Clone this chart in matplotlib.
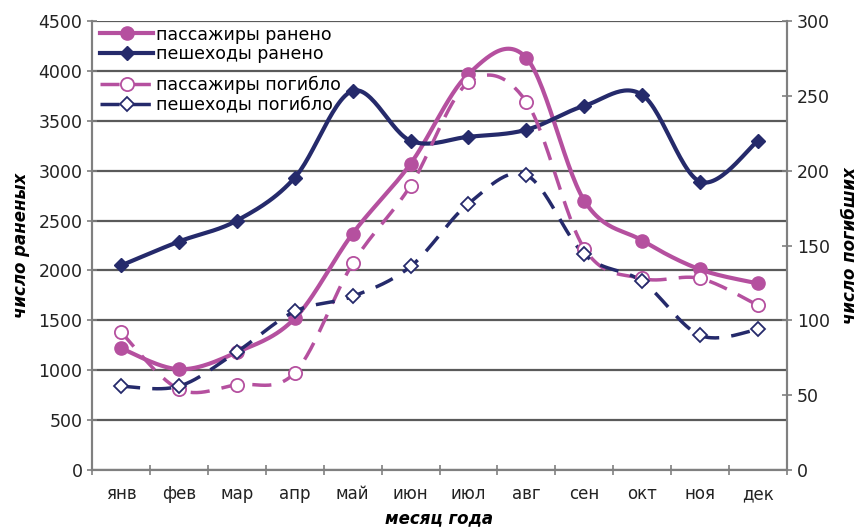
import numpy as np
import matplotlib
matplotlib.use("Agg")
import matplotlib.pyplot as plt

plt.rcParams['font.family'] = ['DejaVu Sans']

months = ['янв', 'фев', 'мар', 'апр', 'май', 'июн', 'июл', 'авг', 'сен', 'окт', 'ноя', 'дек']

# injured (left axis)
pass_injured = [1220, 1010, 1180, 1520, 2370, 3070, 3970, 4130, 2700, 2300, 2010, 1870]
ped_injured = [2050, 2290, 2500, 2930, 3800, 3300, 3340, 3410, 3650, 3760, 2890, 3300]
# killed (right axis)
pass_killed = [92, 54, 57, 65, 138, 190, 259, 246, 148, 128, 128, 110]
ped_killed = [56, 56, 79, 106, 116, 136, 178, 197, 144, 126, 90, 94]

MAGENTA = '#B5509F'
NAVY = '#252A6B'
GRID = '#5A5A5A'
SPINE = '#808080'
DASH = (5.5, 3.5)


def smooth(x, y, n=30):
    """Catmull-Rom style smoothing, same as spreadsheet 'smoothed line'."""
    x = np.asarray(x, float)
    y = np.asarray(y, float)
    px = np.concatenate([[x[0]], x, [x[-1]]])
    py = np.concatenate([[y[0]], y, [y[-1]]])
    xs, ys = [], []
    t = np.linspace(0, 1, n)
    for i in range(1, len(px) - 2):
        p0 = np.array([px[i], py[i]])
        p3 = np.array([px[i + 1], py[i + 1]])
        c1 = p0 + (p3 - np.array([px[i - 1], py[i - 1]])) / 6
        c2 = p3 - (np.array([px[i + 2], py[i + 2]]) - p0) / 6
        b = ((1 - t) ** 3)[:, None] * p0 + (3 * (1 - t) ** 2 * t)[:, None] * c1 \
            + (3 * (1 - t) * t ** 2)[:, None] * c2 + (t ** 3)[:, None] * p3
        xs.append(b[:, 0])
        ys.append(b[:, 1])
    return np.concatenate(xs), np.concatenate(ys)


x = np.arange(len(months))

fig = plt.figure(figsize=(8.61, 5.32), dpi=100)
ax = fig.add_axes([0.107, 0.1165, 0.807, 0.844])
ax2 = ax.twinx()

# left axis: injured
sx, sy = smooth(x, pass_injured)
ax.plot(sx, sy, color=MAGENTA, lw=3, solid_capstyle='round', zorder=3)
ax.plot(x, pass_injured, 'o', color=MAGENTA, ms=9.5, zorder=4)
sx, sy = smooth(x, ped_injured)
ax.plot(sx, sy, color=NAVY, lw=3, solid_capstyle='round', zorder=3)
ax.plot(x, ped_injured, 'D', color=NAVY, ms=7, zorder=4)

# right axis: killed
sx, sy = smooth(x, pass_killed)
ax2.plot(sx, sy, color=MAGENTA, lw=2.5, dashes=DASH, zorder=3)
ax2.plot(x, pass_killed, 'o', mfc='white', mec=MAGENTA, mew=1.3, ms=9.5, zorder=4)
sx, sy = smooth(x, ped_killed)
ax2.plot(sx, sy, color=NAVY, lw=2.5, dashes=DASH, zorder=3)
ax2.plot(x, ped_killed, 'D', mfc='white', mec=NAVY, mew=1.3, ms=7, zorder=4)

ax.set_xlim(-0.5, 11.5)
ax.set_ylim(0, 4500)
ax2.set_ylim(0, 300)
ax.set_yticks(np.arange(0, 4501, 500))
ax2.set_yticks(np.arange(0, 301, 50))
ax.set_xticks(x)
ax.set_xticklabels(months)
ax.set_xticks(np.arange(-0.5, 12, 1), minor=True)
ax.tick_params(axis='x', which='major', length=0, pad=11, labelsize=12, colors='#222222')
ax.tick_params(axis='x', which='minor', length=7, direction='inout', color=SPINE, width=1.2)
ax.tick_params(axis='y', length=7, direction='inout', color=SPINE, width=1.2, labelsize=12.5,
               labelcolor='#222222')
ax2.tick_params(axis='y', length=7, direction='inout', color=SPINE, width=1.2, labelsize=12.5,
                labelcolor='#222222')

ax.yaxis.grid(True, color=GRID, lw=1.6)
ax.set_axisbelow(True)
for a in (ax, ax2):
    a.spines['top'].set_visible(False)
    for s in ('left', 'right', 'bottom'):
        a.spines[s].set_color(SPINE)
        a.spines[s].set_linewidth(1.5)

ax.set_ylabel('число раненых', fontsize=12, fontweight='bold', fontstyle='italic', labelpad=6)
ax2.set_ylabel('число погибших', fontsize=12, fontweight='bold', fontstyle='italic',
               rotation=90, labelpad=8)
ax.set_xlabel('месяц года', fontsize=12, fontweight='bold', fontstyle='italic', labelpad=4)

# legend entries: one block per axis
h1, = ax.plot([], [], color=MAGENTA, lw=3, marker='o', ms=9.5)
h2, = ax.plot([], [], color=NAVY, lw=3, marker='D', ms=7)
h3, = ax.plot([], [], color=MAGENTA, lw=2.5, dashes=DASH, marker='o', mfc='white',
              mec=MAGENTA, mew=1.3, ms=9.5)
h4, = ax.plot([], [], color=NAVY, lw=2.5, dashes=DASH, marker='D', mfc='white',
              mec=NAVY, mew=1.3, ms=7)
leg_kw = dict(loc='upper left', frameon=False, fontsize=12.5, handlelength=3.0,
              handletextpad=0.2, labelspacing=0.1, borderaxespad=0.0, borderpad=0.0)
leg1 = ax2.legend([h1, h2], ['пассажиры ранено', 'пешеходы ранено'],
                  bbox_to_anchor=(0.012, 0.99), **leg_kw)
ax2.add_artist(leg1)
ax2.legend([h3, h4], ['пассажиры погибло', 'пешеходы погибло'],
           bbox_to_anchor=(0.012, 0.878), **leg_kw)

fig.savefig('out.png', dpi=100)
